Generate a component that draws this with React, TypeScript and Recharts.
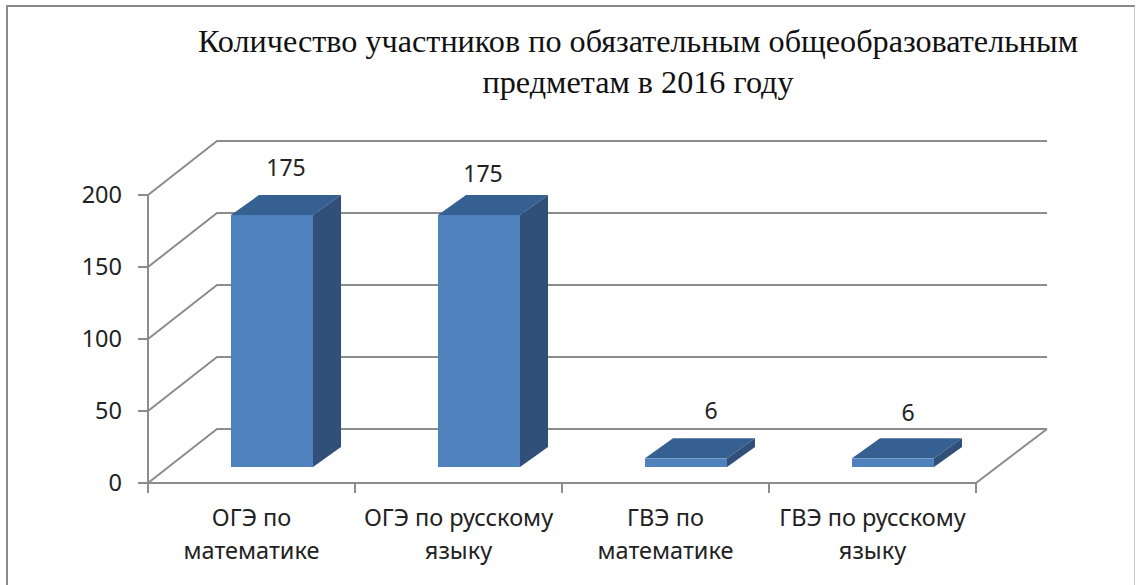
// App.tsx
import { BarChart, Bar, XAxis, YAxis, CartesianGrid, LabelList } from "recharts";

const categories = [
  "ОГЭ по\nматематике",
  "ОГЭ по русскому\nязыку",
  "ГВЭ по\nматематике",
  "ГВЭ по русскому\nязыку",
];
const participants = [175, 175, 6, 6];
const yTicks = [0, 50, 100, 150, 200];
const titleLines = [
  "Количество участников по обязательным общеобразовательным",
  "предметам в 2016 году",
];

const chartData = categories.map((name, i) => ({ name, value: participants[i] }));

const WIDTH = 1136;
const HEIGHT = 585;
const PLOT_LEFT = 148;
const PLOT_RIGHT = 976;
const PLOT_TOP = 195;
const PLOT_BOTTOM = 483;
const BAND = (PLOT_RIGHT - PLOT_LEFT) / categories.length;

// fake 3d: the wall sits this far behind the axis plane
const WALL_DX = 69;
const WALL_RIGHT_DX = 71;
const WALL_DY = 54;
// bars stand part way into the floor
const BAR_DX = 20;
const BAR_DY = 16;
const BAR_DEPTH_X = 28;
const BAR_DEPTH_Y = 20;

const GRAY = "#8c8c8c";
const LINE_W = 2;
const LABEL_FONT = "'Noto Sans', sans-serif";
// the value labels are not quite centred in the original
const labelNudge = [{ x: 0, y: 0 }, { x: -10, y: 6 }, { x: 11, y: 0 }, { x: 1, y: 2 }];

function WallLine(props: any) {
  const { x1, x2, y1 } = props;
  const back = y1 - WALL_DY;
  return (
    <g>
      <path
        d={`M${x1},${y1}L${x1 + WALL_DX},${back}L${x2 + WALL_RIGHT_DX},${back}`}
        fill="none"
        stroke={GRAY}
        strokeWidth={LINE_W}
      />
      {y1 === PLOT_BOTTOM && (
        <line x1={x2} y1={y1} x2={x2 + WALL_RIGHT_DX} y2={back} stroke={GRAY} strokeWidth={LINE_W} />
      )}
    </g>
  );
}

function Bar3D(props: any) {
  const { x, y, width, height } = props;
  const left = x + BAR_DX;
  const right = left + width;
  const top = y - BAR_DY;
  const bottom = top + height;
  return (
    <g>
      <path
        d={`M${left},${top}L${left + BAR_DEPTH_X},${top - BAR_DEPTH_Y}L${right + BAR_DEPTH_X},${top - BAR_DEPTH_Y}L${right},${top}Z`}
        fill="#376092"
      />
      <path
        d={`M${right},${top}L${right + BAR_DEPTH_X},${top - BAR_DEPTH_Y}L${right + BAR_DEPTH_X},${bottom - BAR_DEPTH_Y}L${right},${bottom}Z`}
        fill="#30507a"
      />
      <rect x={left} y={top} width={width} height={height} fill="#4f81bd" />
    </g>
  );
}

function ValueLabel(props: any) {
  const { x, y, width, value, index } = props;
  const nudge = labelNudge[index];
  return (
    <text
      x={x + BAR_DX + width / 2 + BAR_DEPTH_X / 2 + nudge.x}
      y={y - BAR_DY - BAR_DEPTH_Y - 19 + nudge.y}
      textAnchor="middle"
      fontFamily={LABEL_FONT}
      fontSize={23}
      fill="#222"
    >
      {value}
    </text>
  );
}

function CategoryTick(props: any) {
  const { x, y, payload, index } = props;
  const lines = String(payload.value).split("\n");
  const edge = x - BAND / 2;
  return (
    <g>
      <line x1={edge} y1={PLOT_BOTTOM} x2={edge} y2={PLOT_BOTTOM + 10} stroke={GRAY} strokeWidth={LINE_W} />
      {index === categories.length - 1 && (
        <line x1={edge + BAND} y1={PLOT_BOTTOM} x2={edge + BAND} y2={PLOT_BOTTOM + 10} stroke={GRAY} strokeWidth={LINE_W} />
      )}
      <text textAnchor="middle" fontFamily={LABEL_FONT} fontSize={23.5} fill="#222">
        {lines.map((line, i) => (
          <tspan key={i} x={x} y={y + 35 + i * 33}>
            {line}
          </tspan>
        ))}
      </text>
    </g>
  );
}

export default function App() {
  return (
    <div style={{ position: "absolute", left: 0, top: 0, width: WIDTH, height: HEIGHT, overflow: "hidden", background: "#fff" }}>
      <div
        style={{
          position: "absolute",
          left: 6,
          top: 5,
          width: 1126,
          height: 590,
          borderTop: "2.5px solid #8a8a8a",
          borderLeft: "2.5px solid #8a8a8a",
          borderRight: "1px solid #c8c8c8",
        }}
      />
      <div
        style={{
          position: "absolute",
          left: 100,
          width: 1076,
          top: 21,
          textAlign: "center",
          fontFamily: "'Liberation Serif', serif",
          fontSize: 32.2,
          lineHeight: "41px",
          color: "#111",
        }}
      >
        {titleLines.map((line) => (
          <div key={line}>{line}</div>
        ))}
      </div>
      <BarChart
        width={WIDTH}
        height={HEIGHT}
        data={chartData}
        margin={{ top: PLOT_TOP, right: WIDTH - PLOT_RIGHT, bottom: 0, left: 0 }}
        style={{ position: "absolute", left: 0, top: 0 }}
      >
        <CartesianGrid vertical={false} horizontal={(p: any) => <WallLine key={p.key} {...p} />} />
        <XAxis
          dataKey="name"
          height={HEIGHT - PLOT_BOTTOM}
          interval={0}
          tickLine={false}
          axisLine={{ stroke: GRAY, strokeWidth: LINE_W }}
          tick={<CategoryTick />}
        />
        <YAxis
          width={PLOT_LEFT}
          domain={[0, 200]}
          ticks={yTicks}
          interval={0}
          tickSize={10}
          tickMargin={16}
          axisLine={{ stroke: GRAY, strokeWidth: LINE_W }}
          tickLine={{ stroke: GRAY, strokeWidth: LINE_W }}
          tick={{ fontFamily: LABEL_FONT, fontSize: 23.5, fill: "#222" }}
        />
        <Bar dataKey="value" barSize={82} shape={<Bar3D />} isAnimationActive={false}>
          <LabelList dataKey="value" content={<ValueLabel />} />
        </Bar>
      </BarChart>
    </div>
  );
}
